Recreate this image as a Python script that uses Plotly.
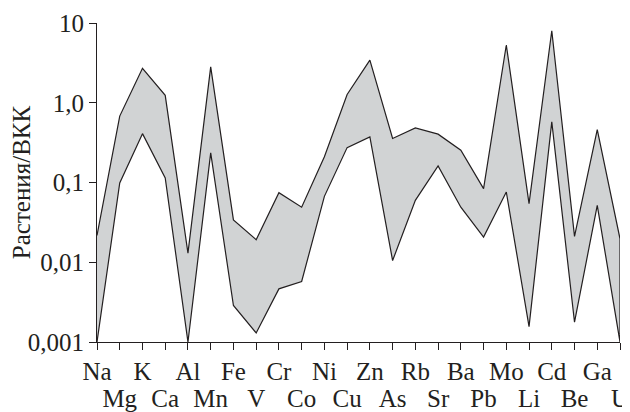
import plotly.graph_objects as go

elements = ["Na", "Mg", "K", "Ca", "Al", "Mn", "Fe", "V", "Cr", "Co", "Ni", "Cu",
            "Zn", "As", "Rb", "Sr", "Ba", "Pb", "Mo", "Li", "Cd", "Be", "Ga", "U"]
upper = [0.0217, 0.68, 2.7, 1.24, 0.013, 2.82, 0.034, 0.0192, 0.0746, 0.049, 0.21, 1.27,
         3.43, 0.356, 0.484, 0.404, 0.254, 0.0838, 5.3, 0.0543, 8.0, 0.0211, 0.461, 0.0197]
lower = [0.001, 0.0986, 0.41, 0.114, 0.001, 0.235, 0.00287, 0.0013, 0.00464, 0.00574, 0.067, 0.274,
         0.373, 0.0105, 0.0597, 0.161, 0.049, 0.0207, 0.076, 0.00156, 0.575, 0.00177, 0.0518, 0.001]
y_tickvals = [0.001, 0.01, 0.1, 1, 10]
y_ticktext = ["0,001", "0,01", "0,1", "1,0", "10"]

xs = list(range(len(elements)))
row1_text = [e if i % 2 == 0 else "" for i, e in enumerate(elements)]
odd_x = [i for i in xs if i % 2 == 1]
row2_text = [elements[i] for i in odd_x]

fig = go.Figure()
fig.add_trace(go.Scatter(
    x=xs + xs[::-1],
    y=upper + lower[::-1],
    mode="lines",
    fill="toself",
    fillcolor="#d1d3d4",
    line=dict(color="#231f20", width=1.2),
    hoverinfo="skip",
    showlegend=False,
    cliponaxis=False,
))
# helper trace so the second label row (xaxis2) is rendered
fig.add_trace(go.Scatter(x=xs, y=upper, mode="none", xaxis="x2",
                         hoverinfo="skip", showlegend=False))

FAM = "Liberation Serif"
font = dict(family=FAM, size=25, color="#231f20")
fig.update_layout(
    width=622, height=404,
    margin=dict(l=89, r=10, t=15, b=70),
    plot_bgcolor="white", paper_bgcolor="white",
    font=font,
    showlegend=False,
    xaxis=dict(
        range=[0, len(elements) - 1],
        tickmode="array", tickvals=xs, ticktext=row1_text,
        tickangle=0, automargin=False,
        showline=True, linecolor="#231f20", linewidth=1.2,
        ticks="outside", ticklen=7, tickcolor="#231f20", tickwidth=1.2,
        showgrid=False, zeroline=False,
        tickfont=font,
    ),
    xaxis2=dict(
        overlaying="x", side="bottom", anchor="y",
        range=[0, len(elements) - 1],
        tickmode="array", tickvals=odd_x, ticktext=row2_text,
        tickangle=0, automargin=False,
        showline=False,
        ticks="outside", ticklen=34, tickcolor="rgba(0,0,0,0)", tickwidth=1,
        showgrid=False, zeroline=False,
        tickfont=font,
    ),
    yaxis=dict(
        type="log", range=[-3, 1], automargin=False,
        tickmode="array", tickvals=y_tickvals, ticktext=y_ticktext,
        showline=True, linecolor="#231f20", linewidth=1.2,
        ticks="outside", ticklen=7, tickcolor="#231f20", tickwidth=1.2,
        showgrid=False, zeroline=False,
        tickfont=font,
        title=dict(text="Растения/ВКК", font=dict(family=FAM, size=25, color="#231f20"), standoff=6),
    ),
)

fig.write_html("out.html")
